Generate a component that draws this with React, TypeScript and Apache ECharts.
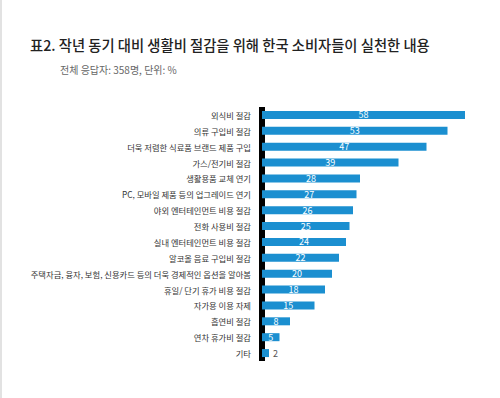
import React, { useEffect, useRef } from "react";
import * as echarts from "echarts";

const categories = [
  "외식비 절감",
  "의류 구입비 절감",
  "더욱 저렴한 식료품 브랜드 제품 구입",
  "가스/전기비 절감",
  "생활용품 교체 연기",
  "PC, 모바일 제품 등의 업그레이드 연기",
  "야외 엔터테인먼트 비용 절감",
  "전화 사용비 절감",
  "실내 엔터테인먼트 비용 절감",
  "알코올 음료 구입비 절감",
  "주택자금, 융자, 보험, 신용카드 등의 더욱 경제적인 옵션을 알아봄",
  "휴일/ 단기 휴가 비용 절감",
  "자가용 이용 자제",
  "흡연비 절감",
  "연차 휴가비 절감",
  "기타",
];
const values = [58, 53, 47, 39, 28, 27, 26, 25, 24, 22, 20, 18, 15, 8, 5, 2];

const titleText = "표2. 작년 동기 대비 생활비 절감을 위해 한국 소비자들이 실천한 내용";
const subtitleText = "전체 응답자: 358명, 단위: %";

const FONT = "'Noto Sans CJK KR', 'Noto Sans', sans-serif";

export default function App() {
  const ref = useRef<HTMLDivElement>(null);
  useEffect(() => {
    if (!ref.current) return;
    const chart = echarts.init(ref.current, undefined, { renderer: "svg" });
    chart.setOption({
      animation: false,
      backgroundColor: "#ffffff",
      title: [
        {
          text: titleText,
          left: 25,
          top: 32,
          textStyle: { fontFamily: FONT, fontSize: 14.3, fontWeight: 500, color: "#222222" },
        },
        {
          text: subtitleText,
          left: 55,
          top: 59,
          textStyle: { fontFamily: FONT, fontSize: 10, fontWeight: "normal", color: "#666666" },
        },
      ],
      graphic: [
        { type: "rect", shape: { x: 0, y: 0, width: 2, height: 398 }, style: { fill: "#e2e2e2" } },
      ],
      grid: { left: 262, right: 28, top: 107, bottom: 37, containLabel: false },
      xAxis: {
        type: "value",
        min: 0,
        max: 60,
        show: false,
      },
      yAxis: {
        type: "category",
        data: categories,
        inverse: true,
        offset: 3,
        axisLine: { show: true, lineStyle: { color: "#000000", width: 6, cap: "butt" } },
        axisTick: { show: false },
        axisLabel: {
          margin: 8,
          fontFamily: FONT,
          fontSize: 8.3,
          color: "#333333",
        },
      },
      series: [
        {
          type: "bar",
          barWidth: 8,
          data: values.map((v) => ({
            value: v,
            label:
              v < 4
                ? { show: true, position: "right", color: "#555555", distance: 4 }
                : { show: true, position: "inside", color: "#ffffff" },
          })),
          itemStyle: { color: "#1b8fd0" },
          label: { fontFamily: FONT, fontSize: 9 },
        },
      ],
    });
    return () => chart.dispose();
  }, []);
  return (
    <div
      ref={ref}
      style={{ position: "fixed", left: 0, top: 0, width: 500, height: 398 }}
    />
  );
}
